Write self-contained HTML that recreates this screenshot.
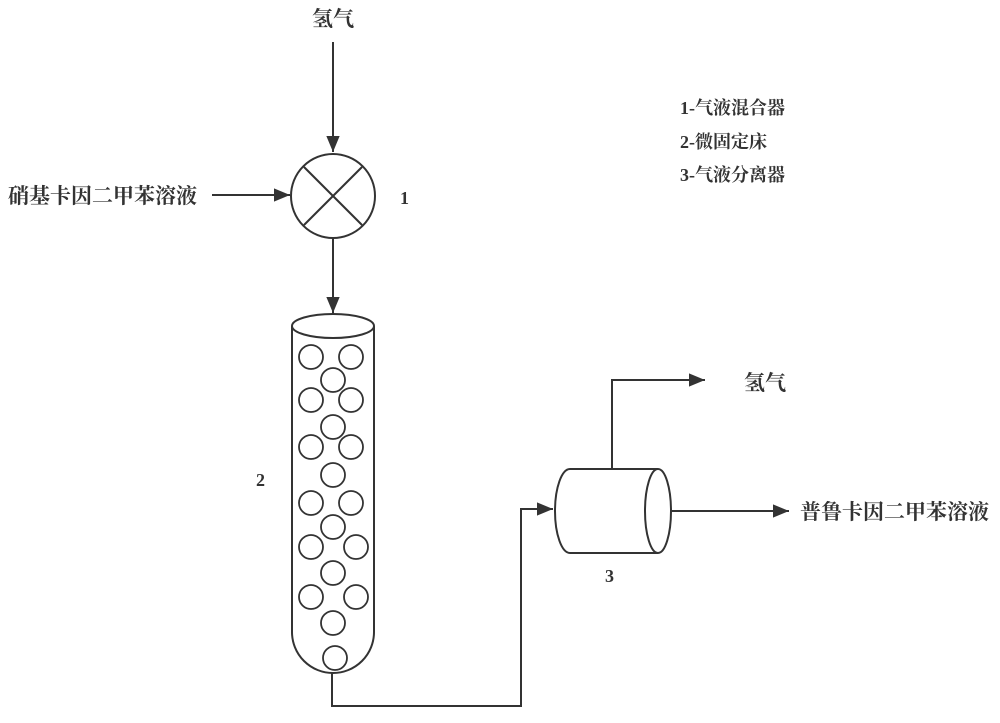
<!DOCTYPE html>
<html><head><meta charset="utf-8"><style>
body{margin:0;background:#fff}
text{font-family:"Liberation Serif","Noto Serif CJK SC",serif;fill:#333;font-weight:bold}
</style></head><body>
<svg width="1000" height="718" viewBox="0 0 1000 718" xmlns="http://www.w3.org/2000/svg">
<defs>
<marker id="b" viewBox="0 0 12 12" markerWidth="16" markerHeight="16" refX="12" refY="6" orient="auto" markerUnits="userSpaceOnUse"><path d="M0,1 L12,6 L0,11 z" fill="#333"/></marker></defs>
<g stroke="#333" stroke-width="2" fill="none">
<line x1="333" y1="42" x2="333" y2="152" marker-end="url(#b)"/>
<line x1="212" y1="195" x2="290" y2="195" marker-end="url(#b)"/>
<circle cx="333" cy="196" r="42"/>
<line x1="304" y1="167" x2="362" y2="225"/><line x1="362" y1="167" x2="304" y2="225"/>
<line x1="333" y1="238" x2="333" y2="313" marker-end="url(#b)"/>
<path d="M292,326 L292,632 A41,41 0 0 0 374,632 L374,326"/>
<ellipse cx="333" cy="326" rx="41" ry="12"/>
<g stroke-width="1.8">
<circle cx="311" cy="357" r="12"/><circle cx="351" cy="357" r="12"/><circle cx="333" cy="380" r="12"/>
<circle cx="311" cy="400" r="12"/><circle cx="351" cy="400" r="12"/><circle cx="333" cy="427" r="12"/>
<circle cx="311" cy="447" r="12"/><circle cx="351" cy="447" r="12"/><circle cx="333" cy="475" r="12"/>
<circle cx="311" cy="503" r="12"/><circle cx="351" cy="503" r="12"/><circle cx="333" cy="527" r="12"/>
<circle cx="311" cy="547" r="12"/><circle cx="356" cy="547" r="12"/><circle cx="333" cy="573" r="12"/>
<circle cx="311" cy="597" r="12"/><circle cx="356" cy="597" r="12"/><circle cx="333" cy="623" r="12"/>
<circle cx="335" cy="658" r="12"/>
</g>
<path d="M332,672 L332,706 L521,706 L521,509 L553,509" marker-end="url(#b)"/>
<path d="M658,469 L570,469 A15,42 0 0 0 570,553 L658,553"/>
<ellipse cx="658" cy="511" rx="13" ry="42"/>
<path d="M612,469 L612,380 L705,380" marker-end="url(#b)"/>
<line x1="671" y1="511" x2="789" y2="511" marker-end="url(#b)"/>
</g>
<g font-size="21">
<text x="312" y="26">氢气</text>
<text x="8" y="203">硝基卡因二甲苯溶液</text>
<text x="400" y="204" font-size="18">1</text>
<text x="680" y="114" font-size="18">1-气液混合器</text>
<text x="680" y="148" font-size="18">2-微固定床</text>
<text x="680" y="181" font-size="18">3-气液分离器</text>
<text x="256" y="486" font-size="18">2</text>
<text x="605" y="582" font-size="18">3</text>
<text x="744" y="390">氢气</text>
<text x="800" y="519">普鲁卡因二甲苯溶液</text>
</g>
</svg>
</body></html>
